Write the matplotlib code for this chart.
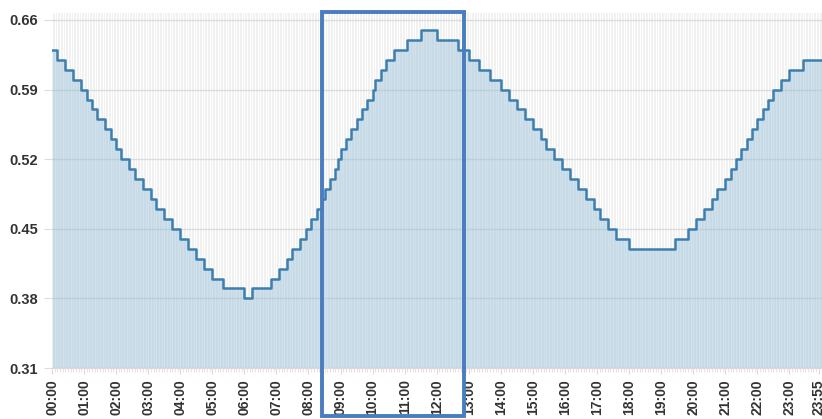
import matplotlib
matplotlib.use('Agg')
import matplotlib.pyplot as plt
import matplotlib.patches as mpatches
import matplotlib.transforms as mtransforms
import numpy as np

niveis = [0.63, 0.62, 0.61, 0.60, 0.59, 0.58, 0.57, 0.56, 0.55, 0.54, 0.53,
          0.52, 0.51, 0.50, 0.49, 0.48, 0.47, 0.46,
          0.45, 0.44, 0.43, 0.42, 0.41, 0.40, 0.39, 0.38, 0.39,
          0.40, 0.41, 0.42, 0.43, 0.44,
          0.45, 0.46, 0.47, 0.48, 0.49, 0.50, 0.51,
          0.52, 0.53, 0.54, 0.55, 0.56, 0.57, 0.58,
          0.59, 0.60, 0.61, 0.62, 0.63, 0.64, 0.65, 0.64,
          0.63, 0.62, 0.61, 0.60,
          0.59, 0.58, 0.57, 0.56, 0.55, 0.54, 0.53,
          0.52, 0.51, 0.50, 0.49, 0.48, 0.47, 0.46,
          0.45, 0.44, 0.43,
          0.44, 0.45, 0.46, 0.47, 0.48, 0.49, 0.50, 0.51,
          0.52, 0.53, 0.54, 0.55, 0.56, 0.57, 0.58,
          0.59, 0.60, 0.61, 0.62]
duracoes = [2, 3, 3, 3, 2, 2, 2, 3, 2, 2, 2,
            3, 2, 3, 3, 2, 3, 3,
            3, 3, 3, 3, 3, 4, 8, 3, 7,
            3, 3, 2, 3, 2,
            2, 2, 2, 1, 2, 2, 1,
            1, 2, 2, 2, 2, 2, 2,
            1, 2, 2, 3, 5, 5, 6, 8,
            4, 4, 4, 4,
            3, 3, 3, 3, 3, 2, 3,
            3, 3, 3, 3, 3, 2, 3,
            3, 5, 17,
            5, 3, 3, 3, 2, 3, 2, 2,
            2, 2, 2, 2, 2, 2, 2,
            3, 3, 5, 7]

horarios = [f'{h:02d}:{m:02d}' for h in range(24) for m in range(0, 60, 5)]
rotulos = [f'{h:02d}:00' for h in range(24)] + ['23:55']
yticks = [0.31, 0.38, 0.45, 0.52, 0.59, 0.66]
destaque = ['08:25', '12:50']

valores = np.repeat(niveis, duracoes)
x = np.arange(len(horarios))

fig = plt.figure(figsize=(8.22, 4.19), dpi=100)
ax = fig.add_axes([52 / 822, 51 / 419, 770 / 822, 355 / 419])
ax.set_facecolor('#f1f1f1')

xs = np.append(x, len(x))
ys = np.append(valores, valores[-1])
ax.fill_between(xs, ys, 0.31, step='post', color='#9ec5da', alpha=0.5, lw=0, zorder=2)
ax.step(xs, ys, where='post', color='#3d7fae', lw=1.8, zorder=3)

ax.set_xlim(0, 288.2)
ax.set_ylim(0.31, 0.667)
ax.set_yticks(yticks)
ax.set_yticklabels([f'{v:.2f}' for v in yticks])
ax.set_xticks([horarios.index(r) for r in rotulos])
ax.set_xticklabels(rotulos, rotation=90)
ax.set_xticks(x, minor=True)

ax.set_axisbelow(True)
ax.grid(which='minor', axis='x', color='white', lw=0.8)
ax.grid(which='major', axis='y', color='#dcdcdc', lw=1)
ax.grid(which='major', axis='x', color='white', lw=0.8)

for lado in ['top', 'right', 'left']:
    ax.spines[lado].set_visible(False)
ax.spines['bottom'].set_color('#e2d4dc')

ax.tick_params(axis='y', length=6, color='#dcdcdc', pad=4, labelsize=10.5,
               labelcolor='#333333')
ax.tick_params(axis='x', which='major', length=4, color='#e2d4dc', pad=4,
               labelsize=10, labelcolor='#333333')
ax.tick_params(axis='x', which='minor', length=3, color='#e8dde3')
for t in ax.get_xticklabels() + ax.get_yticklabels():
    t.set_fontweight('bold')
    t.set_family('Liberation Sans')

# highlight box around the late morning peak
trans = mtransforms.blended_transform_factory(ax.transData, ax.transAxes)
x0 = horarios.index(destaque[0])
x1 = horarios.index(destaque[1]) + 0.2
caixa = mpatches.Rectangle((x0, -0.135), x1 - x0, 1.138, transform=trans,
                           fill=False, edgecolor='#4a7cc0', lw=2.8, clip_on=False,
                           zorder=5)
ax.add_patch(caixa)

fig.savefig('out.png', dpi=100)
